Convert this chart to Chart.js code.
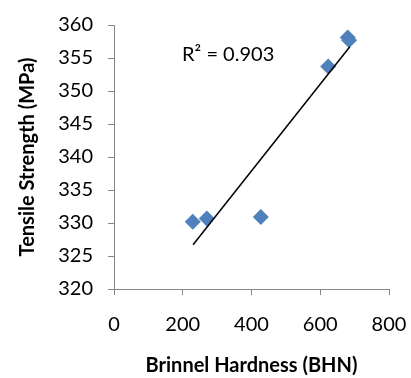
<!DOCTYPE html>
<html>
<head>
<meta charset="utf-8">
<script src="https://cdn.jsdelivr.net/npm/chart.js@4/dist/chart.umd.min.js"></script>
<style>
html,body{margin:0;padding:0;background:#fff;}
#wrap{width:411px;height:378px;}
</style>
</head>
<body>
<div id="wrap"><canvas id="c" width="411" height="378"></canvas></div>
<script>
const hardness = [229, 270, 427, 623, 680, 684];
const strength = [330.2, 330.7, 330.9, 353.7, 358.1, 357.7];
const trendX = [230, 686];
const trendY = [326.7, 356.7];
const xTicks = [0, 200, 400, 600, 800];
const yTicks = [320, 325, 330, 335, 340, 345, 350, 355, 360];
const rSquaredText = 'R² = 0.903';
const xTitle = 'Brinnel Hardness (BHN)';
const yTitle = 'Tensile Strength (MPa)';

const FONT = 'Lato, "Open Sans", sans-serif';
const axisGray = '#868686';

const annotate = {
  id: 'annotate',
  afterDatasetsDraw(chart) {
    const {ctx, scales} = chart;
    ctx.save();
    ctx.font = '20px ' + FONT;
    ctx.fillStyle = '#000';
    ctx.textAlign = 'left';
    ctx.textBaseline = 'middle';
    ctx.fillText(rSquaredText, scales.x.getPixelForValue(198), scales.y.getPixelForValue(355.45));
    ctx.restore();
  }
};

new Chart(document.getElementById('c'), {
  type: 'scatter',
  data: {
    datasets: [
      {
        data: hardness.map((v, i) => ({x: v, y: strength[i]})),
        pointStyle: 'rectRot',
        pointRadius: 8,
        backgroundColor: '#4F81BD',
        borderColor: '#4F81BD',
        borderWidth: 0,
        order: 2
      },
      {
        type: 'line',
        data: trendX.map((v, i) => ({x: v, y: trendY[i]})),
        borderColor: '#000',
        borderWidth: 1.5,
        pointRadius: 0,
        fill: false,
        order: 1
      }
    ]
  },
  plugins: [annotate],
  options: {
    responsive: false,
    animation: false,
    devicePixelRatio: 1,
    layout: {padding: {left: 0, right: 22, top: 25, bottom: 0}},
    plugins: {legend: {display: false}, tooltip: {enabled: false}},
    scales: {
      x: {
        type: 'linear',
        min: 0, max: 800,
        afterBuildTicks: s => { s.ticks = xTicks.map(v => ({value: v})); },
        afterFit: s => { s.height = 89; s.paddingRight = 0; s.paddingLeft = 0; },
        grid: {drawOnChartArea: false, drawTicks: true, tickLength: 6, color: axisGray, lineWidth: 1},
        border: {display: true, color: axisGray, width: 1},
        ticks: {color: '#000', font: {family: FONT, size: 20}, padding: 18, maxRotation: 0},
        title: {display: true, text: xTitle, color: '#000', font: {family: FONT, size: 20, weight: 'bold'}, padding: {top: 0, bottom: 0}}
      },
      y: {
        type: 'linear',
        min: 320, max: 360,
        afterBuildTicks: s => { s.ticks = yTicks.map(v => ({value: v})); },
        afterFit: s => { s.width = 114; s.paddingTop = 0; s.paddingBottom = 0; },
        grid: {drawOnChartArea: false, drawTicks: true, tickLength: 6, color: axisGray, lineWidth: 1},
        border: {display: true, color: axisGray, width: 1},
        ticks: {color: '#000', font: {family: FONT, size: 20}, padding: 15},
        title: {display: true, text: yTitle, color: '#000', font: {family: FONT, size: 20, weight: 'bold'}, padding: {top: 16, bottom: 0}}
      }
    }
  }
});
</script>
</body>
</html>
